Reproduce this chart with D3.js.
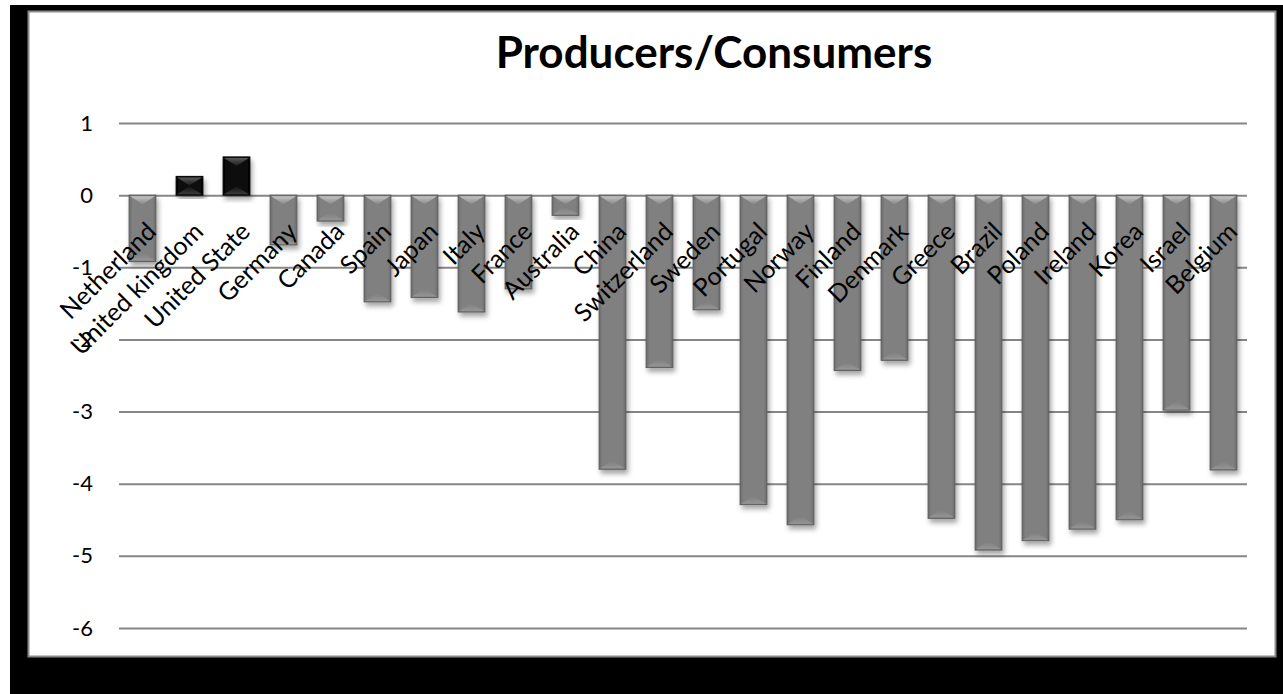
<!DOCTYPE html>
<html>
<head>
<meta charset="utf-8">
<script src="https://cdn.jsdelivr.net/npm/d3@7"></script>
<style>
  html, body { margin: 0; padding: 0; background: #fff; }
  svg { display: block; }
  text { font-family: Lato, "Open Sans", sans-serif; fill: #000; }
</style>
</head>
<body>
<svg id="chart" width="1283" height="694"></svg>
<script>
// Producer / consumer balance by country
const countries = ["Netherland", "United kingdom", "United State", "Germany", "Canada", "Spain",
  "Japan", "Italy", "France", "Australia", "China", "Switzerland", "Sweden", "Portugal",
  "Norway", "Finland", "Denmark", "Greece", "Brazil", "Poland", "Ireland", "Korea", "Israel", "Belgium"];
const balance = [-0.92, 0.26, 0.53, -0.69, -0.36, -1.48,
  -1.42, -1.62, -1.30, -0.28, -3.80, -2.39, -1.59, -4.29,
  -4.57, -2.43, -2.29, -4.48, -4.92, -4.79, -4.63, -4.50, -2.98, -3.81];
const yTicks = [1, 0, -1, -2, -3, -4, -5, -6];
const yTickLabels = ["1", "0", "-1", "-2", "-3", "-4", "-5", "-6"];
const title = "Producers/Consumers";

const svg = d3.select("#chart");
const W = 1283, H = 694;

// frame: dark backdrop with white chart panel
svg.append("rect").attr("x", 10).attr("y", 5).attr("width", W - 10).attr("height", H - 5).attr("fill", "#000");
svg.append("rect").attr("x", 28.5).attr("y", 11.5).attr("width", 1247).attr("height", 645)
  .attr("fill", "#fff").attr("stroke", "#8c8c8c").attr("stroke-width", 2);

const defs = svg.append("defs");
const shadow = defs.append("filter").attr("id", "shadow")
  .attr("x", "-30%").attr("y", "-10%").attr("width", "170%").attr("height", "130%");
shadow.append("feDropShadow").attr("dx", 2).attr("dy", 4).attr("stdDeviation", 2.5)
  .attr("flood-color", "#000").attr("flood-opacity", 0.35);

function hGrad(id, edge, mid) {
  const g = defs.append("linearGradient").attr("id", id).attr("x1", 0).attr("x2", 1).attr("y1", 0).attr("y2", 0);
  g.append("stop").attr("offset", "0%").attr("stop-color", edge);
  g.append("stop").attr("offset", "12%").attr("stop-color", mid);
  g.append("stop").attr("offset", "88%").attr("stop-color", mid);
  g.append("stop").attr("offset", "100%").attr("stop-color", edge);
}
function vGrad(id, c1, c2) {
  const g = defs.append("linearGradient").attr("id", id).attr("x1", 0).attr("x2", 0).attr("y1", 0).attr("y2", 1);
  g.append("stop").attr("offset", "0%").attr("stop-color", c1);
  g.append("stop").attr("offset", "100%").attr("stop-color", c2);
}
hGrad("negBody", "#6a6a6a", "#808080");
hGrad("posBody", "#000", "#0d0d0d");
vGrad("negCap", "#c4c4c4", "#8a8a8a");
vGrad("negFoot", "#7d7d7d", "#959595");
vGrad("posCap", "#5a5a5a", "#1a1a1a");
vGrad("posFoot", "#111", "#3a3a3a");

const x = d3.scaleBand().domain(countries).range([119, 1247]).paddingInner(0.43).paddingOuter(0.215);
const y = d3.scaleLinear().domain([-6, 1]).range([628, 123]);

// gridlines and value labels
const yAxis = d3.axisLeft(y).tickValues(yTicks).tickSize(-(1247 - 119)).tickPadding(26)
  .tickFormat((d, i) => yTickLabels[i]);
const ga = svg.append("g").attr("transform", "translate(119,0)").call(yAxis);
ga.select(".domain").remove();
ga.selectAll(".tick line").attr("stroke", "#868686").attr("stroke-width", 2);
ga.selectAll(".tick text").attr("font-size", 22).attr("fill", "#000")
  .style("font-family", "Lato, 'Open Sans', sans-serif");

// bars
const bars = svg.append("g").selectAll("g").data(countries.map((c, i) => ({ c, v: balance[i] })))
  .join("g").attr("filter", "url(#shadow)");
bars.each(function(d) {
  const g = d3.select(this);
  const x0 = x(d.c), w = x.bandwidth(), x1 = x0 + w, cx = x0 + w / 2;
  const yz = y(0), ye = y(d.v);
  const top = Math.min(yz, ye), bot = Math.max(yz, ye);
  const neg = d.v < 0;
  const bev = Math.min(9, (bot - top) / 2);
  g.append("rect").attr("x", x0).attr("y", top).attr("width", w).attr("height", bot - top)
    .attr("fill", neg ? "url(#negBody)" : "url(#posBody)")
    .attr("stroke", neg ? "#5e5e5e" : "#000").attr("stroke-width", 1);
  g.append("path").attr("d", `M${x0 + 1},${top + 1}L${x1 - 1},${top + 1}L${cx},${top + bev}Z`)
    .attr("fill", neg ? "url(#negCap)" : "url(#posCap)");
  g.append("path").attr("d", `M${x0 + 1},${bot - 1}L${x1 - 1},${bot - 1}L${cx},${bot - bev}Z`)
    .attr("fill", neg ? "url(#negFoot)" : "url(#posFoot)");
});

// category labels, rotated
svg.append("g").selectAll("text").data(countries).join("text")
  .attr("transform", d => `translate(${x(d) + x.bandwidth() / 2 + 9},227) rotate(-45)`)
  .attr("text-anchor", "end").attr("dy", "0.35em").attr("font-size", 25)
  .text(d => d);

// title
svg.append("text").attr("x", 714).attr("y", 68).attr("text-anchor", "middle")
  .attr("font-weight", "bold").attr("font-size", 44).text(title);
</script>
</body>
</html>
